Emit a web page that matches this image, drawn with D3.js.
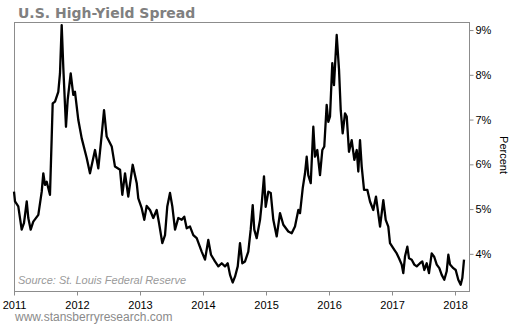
<!DOCTYPE html>
<html>
<head>
<meta charset="utf-8">
<script src="https://cdn.jsdelivr.net/npm/d3@7"></script>
<style>
  body { margin: 0; background: #fff; }
  svg { display: block; }
</style>
</head>
<body>
<svg id="chart" width="510" height="325"></svg>
<script>
// decimal years
var years = [
  2011.000, 2011.016, 2011.068, 2011.122, 2011.159, 2011.202, 2011.227, 2011.265, 2011.306, 2011.386,
  2011.440, 2011.465, 2011.492, 2011.519, 2011.571, 2011.598, 2011.614, 2011.651, 2011.703, 2011.730,
  2011.757, 2011.783, 2011.825, 2011.852, 2011.900, 2011.941, 2011.968, 2012.021, 2012.075, 2012.154,
  2012.206, 2012.286, 2012.338, 2012.392, 2012.429, 2012.471, 2012.551, 2012.603, 2012.683, 2012.719,
  2012.762, 2012.814, 2012.884, 2012.948, 2012.973, 2013.027, 2013.068, 2013.106, 2013.159, 2013.211,
  2013.265, 2013.302, 2013.354, 2013.397, 2013.433, 2013.476, 2013.513, 2013.556, 2013.608, 2013.662,
  2013.703, 2013.741, 2013.794, 2013.846, 2013.900, 2013.979, 2014.032, 2014.084, 2014.127, 2014.190,
  2014.243, 2014.297, 2014.349, 2014.392, 2014.429, 2014.471, 2014.508, 2014.551, 2014.587, 2014.624,
  2014.667, 2014.719, 2014.757, 2014.789, 2014.814, 2014.852, 2014.905, 2014.932, 2014.968, 2014.995,
  2015.037, 2015.075, 2015.116, 2015.170, 2015.222, 2015.275, 2015.354, 2015.408, 2015.460, 2015.513,
  2015.540, 2015.583, 2015.619, 2015.646, 2015.671, 2015.710, 2015.751, 2015.778, 2015.814, 2015.857,
  2015.894, 2015.925, 2015.963, 2015.989, 2016.016, 2016.052, 2016.079, 2016.122, 2016.159, 2016.186,
  2016.217, 2016.254, 2016.281, 2016.317, 2016.360, 2016.402, 2016.440, 2016.465, 2016.492, 2016.519,
  2016.556, 2016.608, 2016.651, 2016.703, 2016.746, 2016.810, 2016.862, 2016.900, 2016.941, 2016.968,
  2017.037, 2017.075, 2017.111, 2017.154, 2017.179, 2017.206, 2017.243, 2017.270, 2017.313, 2017.354,
  2017.392, 2017.444, 2017.481, 2017.513, 2017.551, 2017.587, 2017.630, 2017.671, 2017.710, 2017.751,
  2017.789, 2017.830, 2017.868, 2017.894, 2017.921, 2017.973, 2018.011, 2018.052, 2018.090, 2018.116,
  2018.143
];

// spread, percent
var spread = [
  5.39, 5.17, 5.06, 4.54, 4.69, 5.17, 4.80, 4.54, 4.72, 4.87,
  5.39, 5.80, 5.54, 5.61, 5.32, 6.58, 7.36, 7.40, 7.62, 8.03,
  9.11, 8.15, 6.84, 7.44, 8.03, 7.55, 7.62, 6.99, 6.58, 6.14,
  5.80, 6.32, 5.91, 6.66, 7.21, 6.62, 6.40, 5.95, 5.88, 5.32,
  5.80, 5.28, 5.99, 5.58, 5.24, 5.02, 4.76, 5.07, 4.98, 4.80,
  4.98, 4.69, 4.24, 4.42, 5.06, 5.36, 5.06, 4.54, 4.80, 4.76,
  4.83, 4.57, 4.61, 4.42, 4.35, 4.05, 3.87, 4.31, 3.98, 3.83,
  3.72, 3.79, 3.72, 3.79, 3.53, 3.36, 3.49, 3.72, 4.24, 3.79,
  3.83, 4.05, 4.54, 5.09, 4.54, 4.35, 4.76, 5.13, 5.73, 5.05,
  5.39, 5.36, 4.76, 4.39, 4.91, 4.65, 4.50, 4.46, 4.61, 4.98,
  4.91, 5.47, 5.80, 6.17, 5.76, 5.58, 6.84, 6.17, 6.32, 5.76,
  6.32, 6.40, 7.33, 6.95, 7.07, 8.26, 7.77, 8.89, 8.11, 7.21,
  6.69, 7.14, 7.07, 6.28, 6.54, 6.10, 6.32, 5.84, 6.54, 5.95,
  5.43, 5.43, 5.17, 4.98, 5.28, 4.61, 5.20, 4.76, 4.61, 4.24,
  4.09, 4.01, 3.90, 3.76, 3.57, 3.94, 4.16, 3.90, 3.87, 3.76,
  3.72, 3.79, 3.83, 3.64, 3.79, 3.57, 4.01, 3.93, 3.76, 3.68,
  3.53, 3.42, 3.61, 3.98, 3.76, 3.68, 3.64, 3.42, 3.31, 3.46,
  3.87
];

var yearTicks = [2011, 2012, 2013, 2014, 2015, 2016, 2017, 2018];
var pctTicks = [4, 5, 6, 7, 8, 9];

var svg = d3.select("#chart");
var frame = {left: 14, right: 469, top: 22, bottom: 291};

var x = d3.scaleLinear()
  .domain([2011, 2018.222])
  .range([frame.left, frame.right]);

var y = d3.scaleLinear()
  .domain([3.17, 9.18])
  .range([frame.bottom, frame.top]);

//title
svg.append("text")
  .attr("x", 18)
  .attr("y", 18)
  .attr("font-family", "DejaVu Sans, Verdana, sans-serif")
  .attr("font-weight", "bold")
  .attr("font-size", "14px")
  .attr("fill", "#808080")
  .text("U.S. High-Yield Spread");

//frame
svg.append("rect")
  .attr("x", frame.left + 0.5)
  .attr("y", frame.top + 0.5)
  .attr("width", frame.right - frame.left)
  .attr("height", frame.bottom - frame.top)
  .attr("fill", "none")
  .attr("stroke", "#8c8c8c")
  .attr("stroke-width", 1);

//axes
var xAxis = svg.append("g")
  .attr("transform", "translate(0," + (frame.bottom + 0.5) + ")")
  .call(d3.axisBottom(x).tickValues(yearTicks).tickFormat(d3.format("d")).tickSizeInner(4).tickSizeOuter(0));

var yAxis = svg.append("g")
  .attr("transform", "translate(" + (frame.right + 0.5) + ",0)")
  .call(d3.axisRight(y).tickValues(pctTicks).tickFormat(function(d) { return d + "%"; }).tickSizeInner(4).tickSizeOuter(0).tickPadding(2));

[xAxis, yAxis].forEach(function(g) {
  g.select(".domain").remove();
  g.selectAll(".tick line").attr("stroke", "#8c8c8c");
  g.selectAll(".tick text")
    .attr("font-family", "Liberation Sans, Arial, sans-serif")
    .attr("font-size", "11px")
    .attr("fill", "#000");
});
xAxis.selectAll(".tick text").attr("dy", "0.95em");

svg.append("text")
  .attr("transform", "translate(500,155) rotate(90)")
  .attr("text-anchor", "middle")
  .attr("font-family", "Liberation Sans, Arial, sans-serif")
  .attr("font-size", "11px")
  .attr("fill", "#000")
  .text("Percent");

//line
var line = d3.line()
  .x(function(d, i) { return x(years[i]); })
  .y(function(d) { return y(d); });

svg.append("path")
  .datum(spread)
  .attr("d", line)
  .attr("fill", "none")
  .attr("stroke", "#000")
  .attr("stroke-width", 2.3)
  .attr("stroke-linejoin", "round");

//source + site
svg.append("text")
  .attr("x", 18)
  .attr("y", 284)
  .attr("font-family", "Liberation Sans, Arial, sans-serif")
  .attr("font-style", "italic")
  .attr("font-size", "11px")
  .attr("fill", "#9a9a9a")
  .text("Source: St. Louis Federal Reserve");

svg.append("text")
  .attr("x", 15)
  .attr("y", 321)
  .attr("font-family", "Liberation Sans, Arial, sans-serif")
  .attr("font-size", "12px")
  .attr("fill", "#8a8a8a")
  .text("www.stansberryresearch.com");
</script>
</body>
</html>
